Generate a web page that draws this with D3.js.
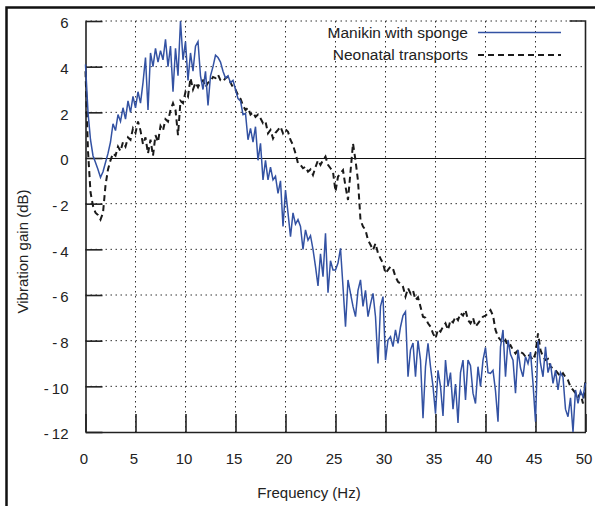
<!DOCTYPE html>
<meta charset="utf-8">
<style>

body { margin: 0; background: #fff; }
svg { font-family: "Liberation Sans", Arial, sans-serif; }

.grid line {
  stroke: #333;
  stroke-width: 1;
  stroke-dasharray: 1.5,3.5;
}

.axis path, .axis line, .border {
  stroke: #222;
  stroke-width: 1.6;
}

.axis text {
  font-size: 15px;
  fill: #222;
}

.manikin {
  fill: none;
  stroke: #3352a3;
  stroke-width: 1.5;
}

.neonatal {
  fill: none;
  stroke: #1a1a1a;
  stroke-width: 2;
  stroke-dasharray: 6,4;
}

</style>
<svg width="595" height="506"></svg>
<script src="https://d3js.org/d3.v7.min.js"></script>
<script>

// one value every 0.25 Hz, 0 .. 50 Hz (each row = 5 Hz)
var freqStep = 0.25;

var manikin = [
  4.1, 2.0, 0.8, 0.1, -0.2, -0.5, -0.85, -0.6, -0.2, 0.2, 0.7, 1.5, 1.2, 1.9, 1.6, 2.2, 1.7, 2.5, 2.0, 2.7,
  2.2, 2.9, 2.4, 3.3, 4.4, 2.1, 4.6, 4.0, 4.8, 4.2, 4.7, 4.3, 5.2, 4.0, 4.9, 2.9, 4.8, 3.6, 6.0, 4.3,
  5.1, 3.4, 4.6, 3.8, 4.9, 5.1, 3.6, 3.0, 3.8, 2.3, 3.6, 4.0, 4.5, 4.4, 4.2, 3.8, 3.5, 3.6, 3.3, 3.4,
  3.0, 2.6, 2.5, 1.9, 1.95, 0.8, 1.3, 0.7, 1.37, -0.1, 0.64, -0.96, -0.1, -0.96, -0.4, -0.96, -0.8, -1.55, -1.0, -3.0,
  -1.4, -2.4, -3.44, -2.4, -2.9, -2.7, -3.0, -4.0, -3.15, -3.6, -3.4, -4.0, -4.76, -5.6, -4.2, -5.2, -3.3, -5.9, -4.5, -4.9,
  -4.9, -4.6, -3.96, -5.64, -7.39, -5.34, -5.93, -6.5, -6.95, -5.8, -5.34, -6.5, -5.8, -6.95, -6.4, -5.93, -6.95, -9.0, -6.5, -6.07,
  -8.85, -7.97, -7.83, -8.26, -7.53, -8.12, -7.4, -6.9, -6.73, -9.58, -8.4, -8.1, -9.58, -8.0, -8.85, -11.4, -9.14, -8.12, -9.14, -10.0,
  -11.2, -9.3, -10.0, -11.3, -8.85, -10.0, -9.4, -11.0, -9.9, -11.6, -9.4, -8.85, -10.6, -8.85, -9.1, -10.3, -10.75, -9.14, -10.0, -8.85,
  -8.3, -9.4, -9.43, -9.3, -10.2, -11.55, -8.27, -7.53, -9.58, -7.97, -8.6, -8.85, -10.3, -8.4, -9.2, -9.58, -8.7, -9.0, -8.5, -9.87,
  -11.55, -8.0, -9.0, -9.58, -8.27, -9.4, -9.0, -9.87, -9.3, -10.16, -9.4, -9.6, -11.0, -11.33, -10.5, -12.0, -10.16, -10.75, -10.2, -10.46,
  -9.85
];

var neonatal = [
  3.8, 0.3, -1.5, -2.1, -2.4, -2.5, -2.7, -2.4, -1.2, -0.5, -0.1, 0.2, 0.1, 0.5, 0.3, 0.7, 0.5, 0.9, 0.8, 1.3,
  1.1, 1.6, 1.2, 0.6, 0.9, 0.2, 0.8, 0.1, 1.0, 0.7, 1.4, 1.2, 1.7, 1.6, 2.1, 2.4, 2.1, 1.0, 2.5, 2.4,
  2.9, 2.7, 3.5, 3.0, 3.3, 3.1, 3.35, 3.4, 3.1, 3.3, 3.35, 3.55, 3.5, 3.65, 3.4, 3.35, 3.5, 3.55, 3.3, 3.1,
  3.0, 2.75, 2.6, 2.3, 2.1, 2.2, 1.9, 2.0, 1.8, 1.9, 1.74, 1.52, 1.6, 1.08, 1.23, 0.86, 1.1, 1.23, 1.37, 1.08,
  1.25, 1.15, 0.79, 0.57, 0.2, -0.23, -0.3, -0.45, -0.38, -0.6, -0.5, -0.74, -0.4, -0.1, -0.3, -0.1, 0.06, -0.3, -0.45, -0.6,
  -1.47, -0.82, -0.67, -0.53, -1.25, -1.84, -0.6, 0.64, -0.1, -1.0, -2.72, -3.0, -3.15, -3.59, -3.8, -4.03, -3.74, -4.17, -4.4, -4.61,
  -5.05, -4.9, -4.76, -4.85, -5.2, -5.42, -5.5, -5.64, -6.07, -5.7, -5.93, -5.8, -6.22, -6.1, -6.51, -6.95, -7.0, -7.24, -7.39, -7.68,
  -7.9, -7.5, -7.6, -7.39, -7.24, -7.53, -7.1, -7.2, -6.95, -7.1, -6.8, -6.9, -6.66, -7.1, -7.24, -7.0, -7.39, -7.24, -7.1, -6.95,
  -6.9, -6.8, -6.66, -6.9, -7.53, -7.83, -7.97, -8.12, -7.97, -8.27, -8.2, -8.41, -8.56, -8.41, -8.5, -8.56, -8.7, -8.6, -8.7, -8.85,
  -8.56, -7.68, -8.41, -8.7, -8.85, -8.8, -9.14, -9.21, -9.3, -9.43, -9.58, -9.43, -9.6, -9.73, -10.02, -10.16, -10.3, -10.46, -10.31, -10.75,
  -9.7
];

var xTicks = [0, 5, 10, 15, 20, 25, 30, 35, 40, 45, 50];
var yTicks = [-12, -10, -8, -6, -4, -2, 0, 2, 4, 6];
var seriesNames = ["Manikin with sponge", "Neonatal transports"];

var svg = d3.select("svg"),
    margin = {top: 21, right: 9.5, bottom: 74, left: 85.5},
    width = +svg.attr("width") - margin.left - margin.right,
    height = +svg.attr("height") - margin.top - margin.bottom;

var x = d3.scaleLinear().domain([0, 50]).range([0, width]),
    y = d3.scaleLinear().domain([-12, 6]).range([height, 0]);

// outer figure frame (top and left edges only)
svg.append("path")
    .attr("d", "M6.5,506V7.5H595")
    .attr("fill", "none")
    .attr("stroke", "#111")
    .attr("stroke-width", 2.5);

var g = svg.append("g")
    .attr("transform", "translate(" + margin.left + "," + margin.top + ")");

// dotted grid
var grid = g.append("g").attr("class", "grid");
grid.selectAll(".gx")
  .data(xTicks.filter(function(d) { return d > 0 && d < 50; }))
  .enter().append("line")
    .attr("x1", x).attr("x2", x)
    .attr("y1", 0).attr("y2", height);
grid.selectAll(".gy")
  .data(yTicks.filter(function(d) { return d > -12 && d !== 0; }))
  .enter().append("line")
    .attr("x1", 0).attr("x2", width)
    .attr("y1", y).attr("y2", y);

// zero line
g.append("line")
    .attr("x1", 0).attr("x2", width)
    .attr("y1", y(0) + 0.5).attr("y2", y(0) + 0.5)
    .attr("stroke", "#111")
    .attr("stroke-width", 1)
    .attr("shape-rendering", "crispEdges");

function fmt(d) { return d < 0 ? "-\u2009" + Math.abs(d) : d; }

g.append("g")
    .attr("class", "axis axis--x")
    .attr("transform", "translate(0," + height + ")")
    .call(d3.axisBottom(x).tickValues(xTicks).tickSizeInner(-18).tickSizeOuter(0).tickPadding(21).tickFormat(fmt))
    .call(function(a) { a.selectAll("text").attr("dx", "-2"); });

g.append("g")
    .attr("class", "axis axis--y")
    .call(d3.axisLeft(y).tickValues(yTicks).tickSizeInner(-17).tickSizeOuter(0).tickPadding(17).tickFormat(fmt))
    .call(function(a) { a.selectAll("text").attr("dy", "0.45em"); });

g.selectAll(".axis").attr("font-family", null).attr("font-size", null);

// right border with its top tick
g.append("path")
    .attr("class", "border")
    .attr("fill", "none")
    .attr("d", "M" + (width - 16) + "," + y(6) + "H" + width + "V" + height);

var line = d3.line()
    .x(function(d, i) { return x(i * freqStep); })
    .y(function(d) { return y(d); });

g.append("path")
    .datum(neonatal)
    .attr("class", "neonatal")
    .attr("d", line);

g.append("path")
    .datum(manikin)
    .attr("class", "manikin")
    .attr("d", line);

// legend
var legend = svg.append("g").attr("font-size", "15.5px").attr("fill", "#222");
legend.selectAll("text")
  .data(seriesNames)
  .enter().append("text")
    .attr("x", 468)
    .attr("y", function(d, i) { return 37.5 + i * 22.5; })
    .attr("text-anchor", "end")
    .text(function(d) { return d; });
legend.append("line")
    .attr("class", "manikin")
    .attr("x1", 478).attr("x2", 561)
    .attr("y1", 32.5).attr("y2", 32.5);
legend.append("line")
    .attr("class", "neonatal")
    .attr("x1", 478).attr("x2", 561)
    .attr("y1", 55).attr("y2", 55);

// axis titles
svg.append("text")
    .attr("x", 309)
    .attr("y", 498)
    .attr("text-anchor", "middle")
    .attr("font-size", "15px")
    .attr("fill", "#222")
    .text("Frequency (Hz)");

svg.append("text")
    .attr("transform", "translate(28,251.5) rotate(-90)")
    .attr("text-anchor", "middle")
    .attr("font-size", "15px")
    .attr("fill", "#222")
    .text("Vibration gain (dB)");

</script>
